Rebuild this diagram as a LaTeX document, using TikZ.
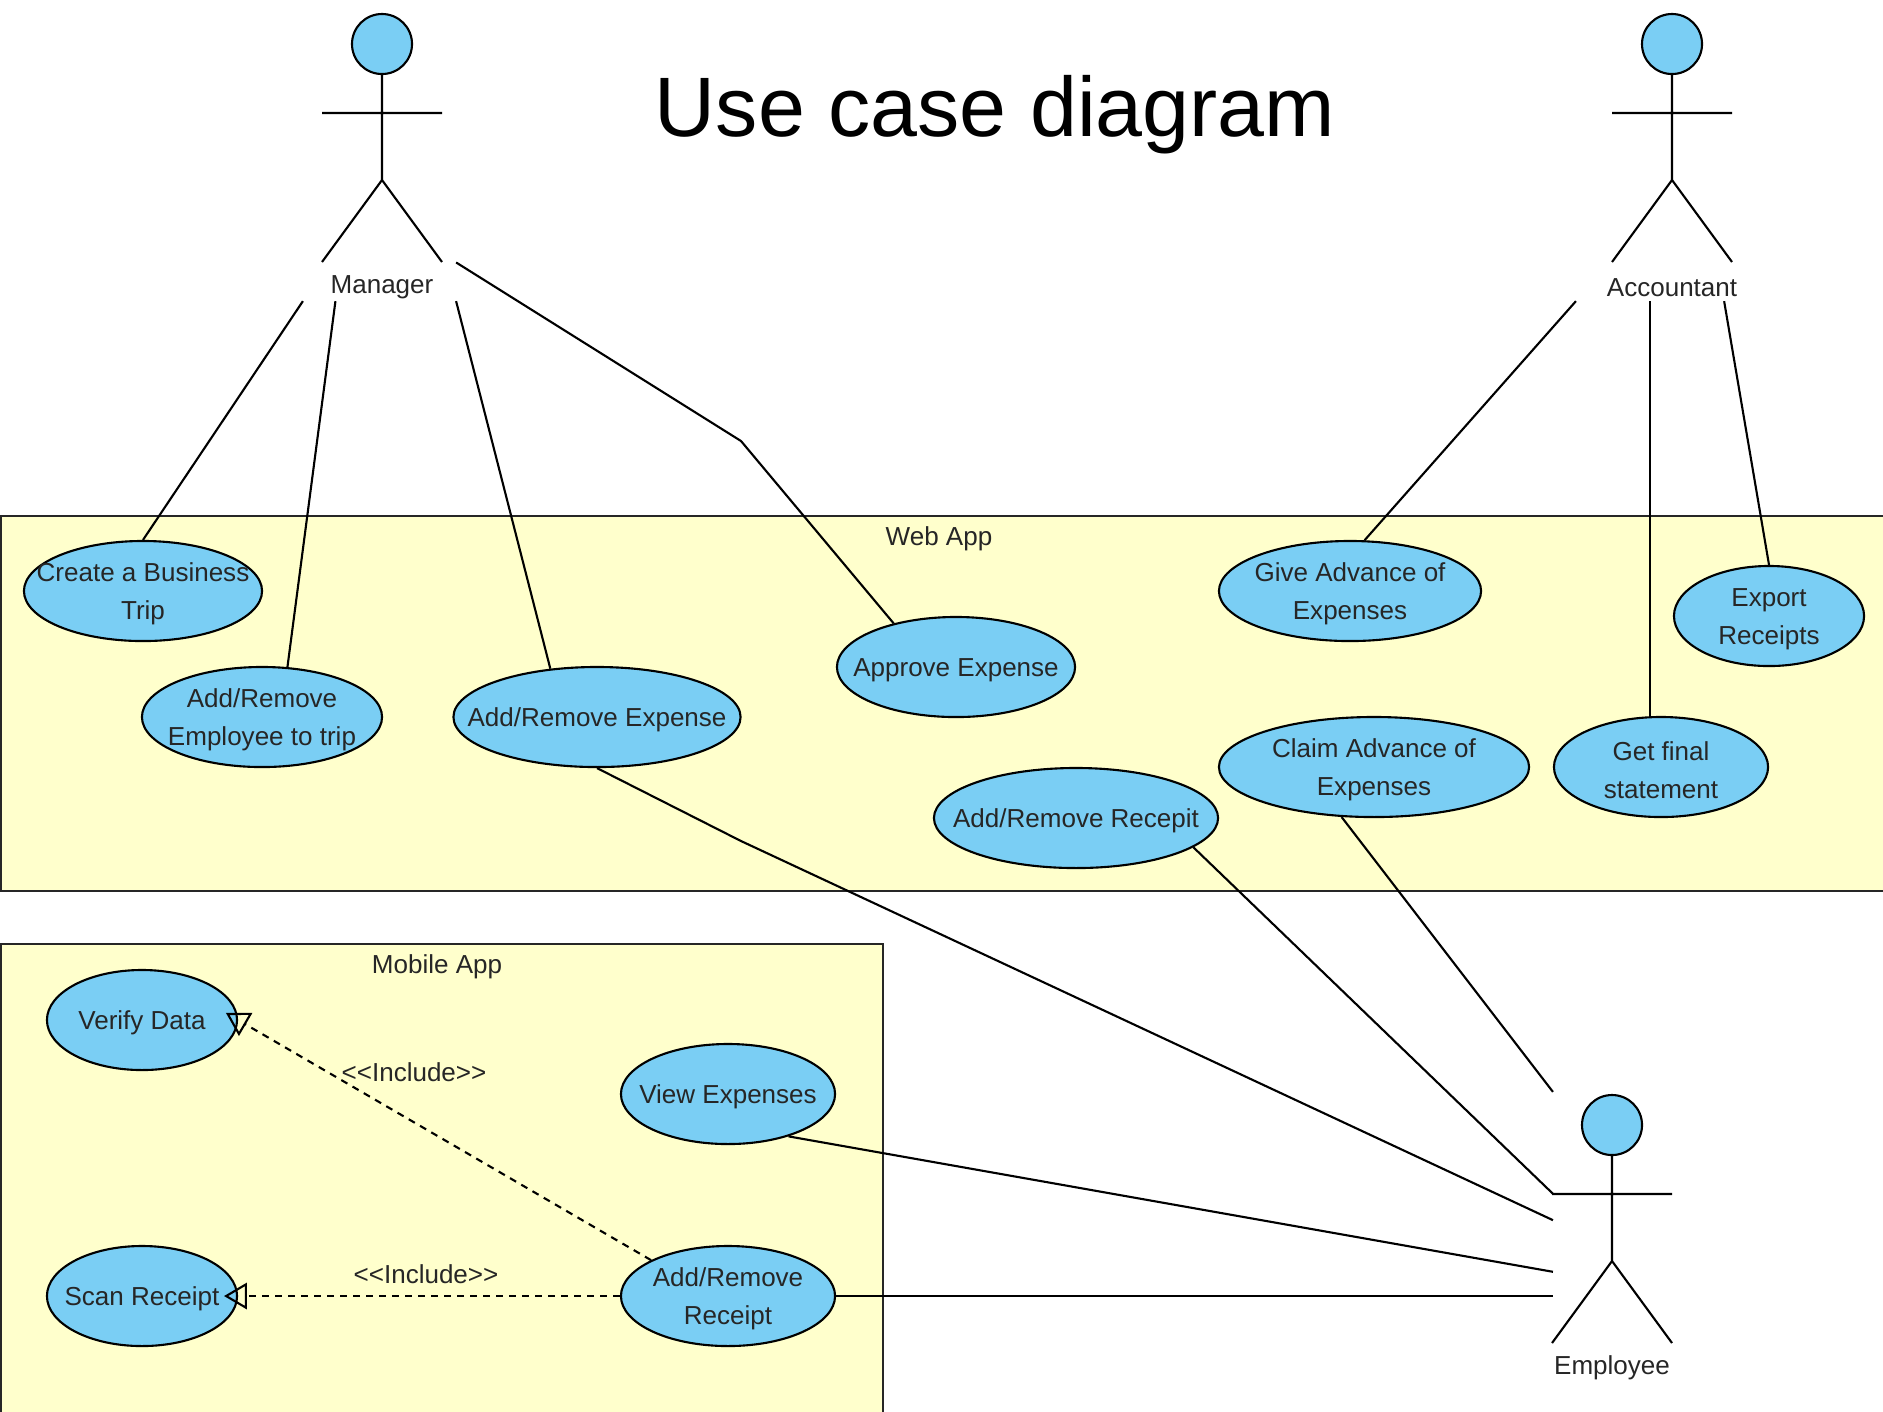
\documentclass[tikz,border=0pt]{standalone}
\usepackage{fontspec}
\setmainfont{Liberation Sans}
\usetikzlibrary{shapes.geometric,arrows.meta,calc}
\definecolor{ucblue}{HTML}{7ACEF4}
\definecolor{sysyellow}{HTML}{FFFFCC}
\tikzset{
  uc/.style={ellipse, draw, fill=ucblue, minimum height=1cm, inner sep=0pt},
  lbl/.style={yshift=-0.9pt, text=black!85},
  uctext/.style={lbl, align=center},
  sysbox/.style={draw=black!85, fill=sysyellow},
  actorbox/.style={rectangle, inner sep=0pt, minimum height=2.86cm},
  incl/.style={dash pattern=on 2pt off 1.7pt, -{Triangle[open,length=6.5pt,width=7.5pt]}, shorten >=-4pt},
  actor/.pic={
    \draw[fill=ucblue] (0,0) circle[radius=0.3cm];
    \draw (0,30) -- (0,136) (-60,69) -- (60,69) (-60,218) -- (0,136) -- (60,218);
    \node[lbl] at (0,240) {#1};
  }
}
\begin{document}
\begin{tikzpicture}[x=0.01cm, y=-0.01cm, line width=0.6pt, font=\fontsize{7.4}{10.8}\selectfont]
\useasboundingbox (0,0) rectangle (1883,1411);

\draw[sysbox] (1,516) rectangle (1900,891);
\draw[sysbox] (1,944) rectangle (883,1430);
\node[lbl] (webapp) at (939,536) {Web App};
\node[lbl] (mobileapp) at (437,964) {Mobile App};

\node[font=\fontsize{24}{28}\selectfont, anchor=base] (title) at (995,136) {Use case diagram};

\pic at (382,44) {actor=Manager};
\pic at (1672,44) {actor=Accountant};
\pic at (1612,1125) {actor=Employee};
\node[actorbox, minimum width=1.51cm] (manager) at (379.5,157) {};
\node[actorbox, minimum width=1.46cm] (accountant) at (1650,157) {};
\node[actorbox, minimum width=1.2cm, minimum height=2.87cm] (employee) at (1614,1236.5) {};

\node[uc, minimum width=2.38cm, label={[uctext]center:Create a Business\\Trip}] (create) at (143,591) {};
\node[uc, minimum width=2.40cm, label={[uctext]center:Add/Remove\\Employee to trip}] (addemp) at (262,717) {};
\node[uc, minimum width=2.87cm, label={[uctext]center:Add/Remove Expense}] (expense) at (597,717) {};
\node[uc, minimum width=2.38cm, label={[uctext]center:Approve Expense}] (approve) at (956,667) {};
\node[uc, minimum width=2.62cm, label={[uctext]center:Give Advance of\\Expenses}] (give) at (1350,591) {};
\node[uc, minimum width=1.90cm, label={[uctext]center:Export\\Receipts}] (export) at (1769,616) {};
\node[uc, minimum width=3.10cm, label={[uctext]center:Claim Advance of\\Expenses}] (claim) at (1374,767) {};
\node[uc, minimum width=2.14cm, label={[uctext]center:Get final\\statement}] (getfinal) at (1661,767) {};
\node[uc, minimum width=2.84cm, label={[uctext]center:Add/Remove Recepit}] (recepit) at (1076,818) {};

\node[uc, minimum width=1.90cm, label={[uctext]center:Verify Data}] (verify) at (142,1020) {};
\node[uc, minimum width=2.14cm, label={[uctext]center:View Expenses}] (viewexp) at (728,1094) {};
\node[uc, minimum width=1.90cm, label={[uctext]center:Scan Receipt}] (scan) at (142,1296) {};
\node[uc, minimum width=2.14cm, label={[uctext]center:Add/Remove\\Receipt}] (addrec) at (728,1296) {};

\coordinate (bendA) at (741,441);
\coordinate (bendB) at (741,841);

\draw (manager.south west) -- (create.north);
\draw (manager.-107.6) -- (addemp.63);
\draw (manager.south east) -- (expense.134);
\draw (manager.-54.8) -- (bendA) -- (approve.145);
\draw (accountant.south west) -- (give.74);
\draw (accountant.south) -- (accountant.south |- getfinal.north);
\draw (accountant.south east) -- (export.north);
\draw (claim.-123) -- (employee.north west);
\draw (recepit.-14) -- (employee.145.3);
\draw (expense.south) -- (bendB) -- (employee.165.5);
\draw (viewexp.-35) -- (employee.-150);
\draw (addrec.east) -- (addrec.east -| employee.west);

\draw[incl] (addrec.155) -- (verify.east);
\draw[incl] (addrec.west) -- (scan.east);
\node[lbl] (inclA) at (414,1069) {<\kern0pt<Include>\kern0pt>};
\node[lbl] (inclB) at (426,1271) {<\kern0pt<Include>\kern0pt>};
\end{tikzpicture}
\end{document}
